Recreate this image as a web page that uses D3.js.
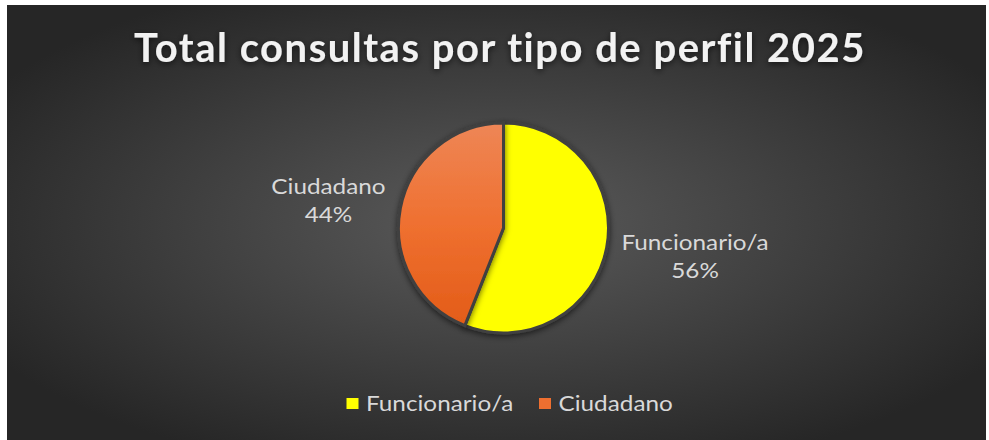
<!DOCTYPE html>
<html>
<head>
<style>
body { margin: 0; background: #ffffff; }
#chart { display: block; }
</style>
</head>
<body>
<svg id="chart" width="989" height="440"></svg>
<script src="https://d3js.org/d3.v7.min.js"></script>
<script>
    // data
    const categories = ["Funcionario/a", "Ciudadano"];
    const shares = [56, 44];
    const labels = ["56%", "44%"];
    const title = "Total consultas por tipo de perfil 2025";

    const svg = d3.select("#chart");
    const W = 989, H = 440;
    const defs = svg.append("defs");

    // background gradient
    const bg = defs.append("radialGradient").attr("id", "bg")
        .attr("cx", "50%").attr("cy", "50%").attr("r", "60%");
    bg.append("stop").attr("offset", "0%").attr("stop-color", "#5b5b5b");
    bg.append("stop").attr("offset", "100%").attr("stop-color", "#262626");

    const og = defs.append("linearGradient").attr("id", "orange")
        .attr("x1", 0).attr("y1", 0).attr("x2", 0).attr("y2", 1);
    og.append("stop").attr("offset", "0%").attr("stop-color", "#ee8656");
    og.append("stop").attr("offset", "50%").attr("stop-color", "#ef7030");
    og.append("stop").attr("offset", "100%").attr("stop-color", "#e35c18");

    const sh = defs.append("filter").attr("id", "shadow")
        .attr("x", "-20%").attr("y", "-20%").attr("width", "140%").attr("height", "140%");
    sh.append("feDropShadow").attr("dx", 0).attr("dy", 2).attr("stdDeviation", 3)
        .attr("flood-color", "#000").attr("flood-opacity", 0.6);

    svg.append("rect").attr("x", 7).attr("y", 5).attr("width", W - 10).attr("height", H - 5)
        .attr("fill", "url(#bg)");

    // title
    svg.append("text")
        .attr("x", 500).attr("y", 62)
        .attr("text-anchor", "middle")
        .attr("font-family", "Lato")
        .attr("font-weight", "bold")
        .attr("font-size", 40)
        .attr("letter-spacing", 1.5)
        .attr("fill", "#f2f2f2")
        .attr("filter", "url(#shadow)")
        .text(title);

    const color = d3.scaleOrdinal().domain(categories).range(["#ffff00", "url(#orange)"]);
    const legendColor = d3.scaleOrdinal().domain(categories).range(["#ffff00", "#ee6f30"]);

    const cx = 503.5, cy = 228, r = 105;
    const pie = d3.pie().sort(null).value(d => d.v);
    const arcs = pie(categories.map((c, i) => ({ c: c, v: shares[i], l: labels[i] })));
    const arc = d3.arc().innerRadius(0).outerRadius(r);

    const g = svg.append("g").attr("transform", `translate(${cx},${cy})`);
    g.selectAll("path").data(arcs).enter().append("path")
        .attr("d", arc)
        .attr("fill", d => color(d.data.c))
        .attr("stroke", "#404040")
        .attr("stroke-width", 3)
        .attr("filter", "url(#shadow)");

    // data labels: nearest edge of the text block sits a little outside the pie
    const edgeArc = d3.arc().innerRadius(r + 15).outerRadius(r + 15);
    const lab = g.selectAll(".lab").data(arcs).enter().append("text")
        .attr("class", "lab")
        .attr("text-anchor", "middle")
        .attr("font-family", "Lato")
        .attr("font-size", 21.5)
        .attr("fill", "#d9d9d9");
    lab.append("tspan").attr("x", 0).attr("dy", -6).text(d => d.data.c);
    lab.append("tspan").attr("x", 0).attr("dy", 28).text(d => d.data.l);
    lab.attr("transform", function(d) {
        const p = edgeArc.centroid(d);
        const w = this.getBBox().width * 1.13;
        const x = p[0] + Math.sign(p[0]) * w / 2;
        return `translate(${x},${p[1] * 1.25}) scale(1.13,1)`;
    });

    // legend
    const legendX = [346.5, 539];
    const lg = svg.append("g");
    categories.forEach((c, i) => {
        lg.append("rect").attr("x", legendX[i]).attr("y", 398)
            .attr("width", 12).attr("height", 11)
            .attr("fill", legendColor(c));
        lg.append("text")
            .attr("transform", `translate(${legendX[i] + 19.5},411) scale(1.13,1)`)
            .attr("font-family", "Lato").attr("font-size", 21.5)
            .attr("fill", "#d9d9d9").text(c);
    });
</script>
</body>
</html>
